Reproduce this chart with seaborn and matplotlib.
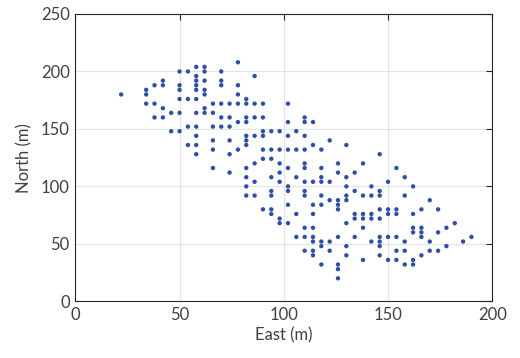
import matplotlib
matplotlib.use("Agg")
import matplotlib.pyplot as plt
import seaborn as sns
import pandas as pd

east = (
    [22] +
    [34]*3 + [38]*3 + [42]*4 + [46]*2 + [50]*6 + [54]*4 + [58]*11 + [62]*7 +
    [66]*6 + [70]*6 + [74]*6 + [78]*6 + [82]*11 + [86]*7 + [90]*7 + [94]*8 +
    [98]*7 + [102]*9 + [106]*5 + [110]*12 + [114]*10 + [118]*9 + [122]*5 +
    [126]*9 + [130]*8 + [134]*5 + [138]*6 + [142]*5 + [146]*9 + [150]*5 +
    [154]*6 + [158]*5 + [162]*6 + [166]*5 + [170]*3 + [174]*3 + [178]*2 +
    [182] + [186] + [190]
)
north = [
    180,
    184, 180, 172,
    188, 172, 160,
    192, 188, 168, 160,
    164, 148,
    200, 188, 184, 176, 164, 148,
    200, 176, 152, 136,
    204, 196, 192, 188, 184, 176, 164, 152, 144, 136, 128,
    204, 200, 192, 184, 180, 168, 164,
    172, 164, 152, 140, 132, 116,
    200, 192, 188, 172, 160, 152,
    172, 160, 152, 140, 128, 112,
    208, 188, 180, 172, 156, 132,
    176, 172, 160, 156, 144, 140, 136, 116, 108, 100, 92,
    196, 172, 160, 144, 120, 104, 92,
    172, 160, 148, 144, 132, 124, 80,
    148, 132, 124, 108, 96, 92, 80, 76,
    148, 132, 120, 112, 104, 72, 68,
    172, 156, 144, 132, 116, 100, 96, 84, 68,
    148, 132, 108, 76, 56,
    160, 156, 144, 132, 120, 116, 104, 96, 92, 64, 56, 44,
    156, 136, 104, 84, 76, 64, 56, 52, 44, 40,
    132, 116, 108, 104, 92, 84, 52, 48, 32,
    140, 104, 88, 52, 44,
    120, 112, 88, 84, 80, 56, 32, 28, 20,
    136, 108, 100, 92, 88, 68, 48, 40,
    112, 96, 76, 72, 56,
    120, 92, 76, 72, 64, 36,
    100, 92, 76, 72, 52,
    128, 96, 92, 80, 72, 56, 52, 48, 40,
    104, 80, 76, 56, 36,
    116, 80, 76, 56, 44, 36,
    108, 92, 52, 44, 32,
    100, 76, 64, 60, 36, 32,
    80, 64, 60, 56, 40,
    88, 52, 44,
    80, 60, 44,
    64, 48,
    68,
    52,
    56,
]
x_ticks = [0, 50, 100, 150, 200]
y_ticks = [0, 50, 100, 150, 200, 250]

df = pd.DataFrame({"East": east, "North": north})

sns.set_theme(style="whitegrid")
plt.rcParams["font.family"] = ["Lato", "DejaVu Sans"]

fig = plt.figure(figsize=(5.2, 3.58), dpi=100)
ax = fig.add_axes([75.3/520, 1 - 301.3/358, (492.3-75.3)/520, (301.3-14)/358])

sns.scatterplot(data=df, x="East", y="North", ax=ax, s=10, color="#2F4FA6",
                edgecolor="none", linewidth=0, zorder=3)

ax.set_xlim(0, 200)
ax.set_ylim(0, 250)
ax.set_xticks(x_ticks)
ax.set_yticks(y_ticks)
ax.set_xlabel("East (m)", fontsize=12, color="#404040", labelpad=3)
ax.set_ylabel("North (m)", fontsize=12, color="#404040", labelpad=6)
ax.tick_params(axis="both", which="both", direction="in", length=4, width=0.8,
               colors="#262626", labelcolor="#404040", labelsize=12,
               top=True, right=True, pad=4)
ax.grid(True, color="#E3E3E3", linewidth=0.8)
for sp in ax.spines.values():
    sp.set_visible(True)
    sp.set_color("#262626")
    sp.set_linewidth(0.8)
ax.set_facecolor("white")
fig.patch.set_facecolor("white")

fig.savefig("out.png", dpi=100, facecolor="white")
